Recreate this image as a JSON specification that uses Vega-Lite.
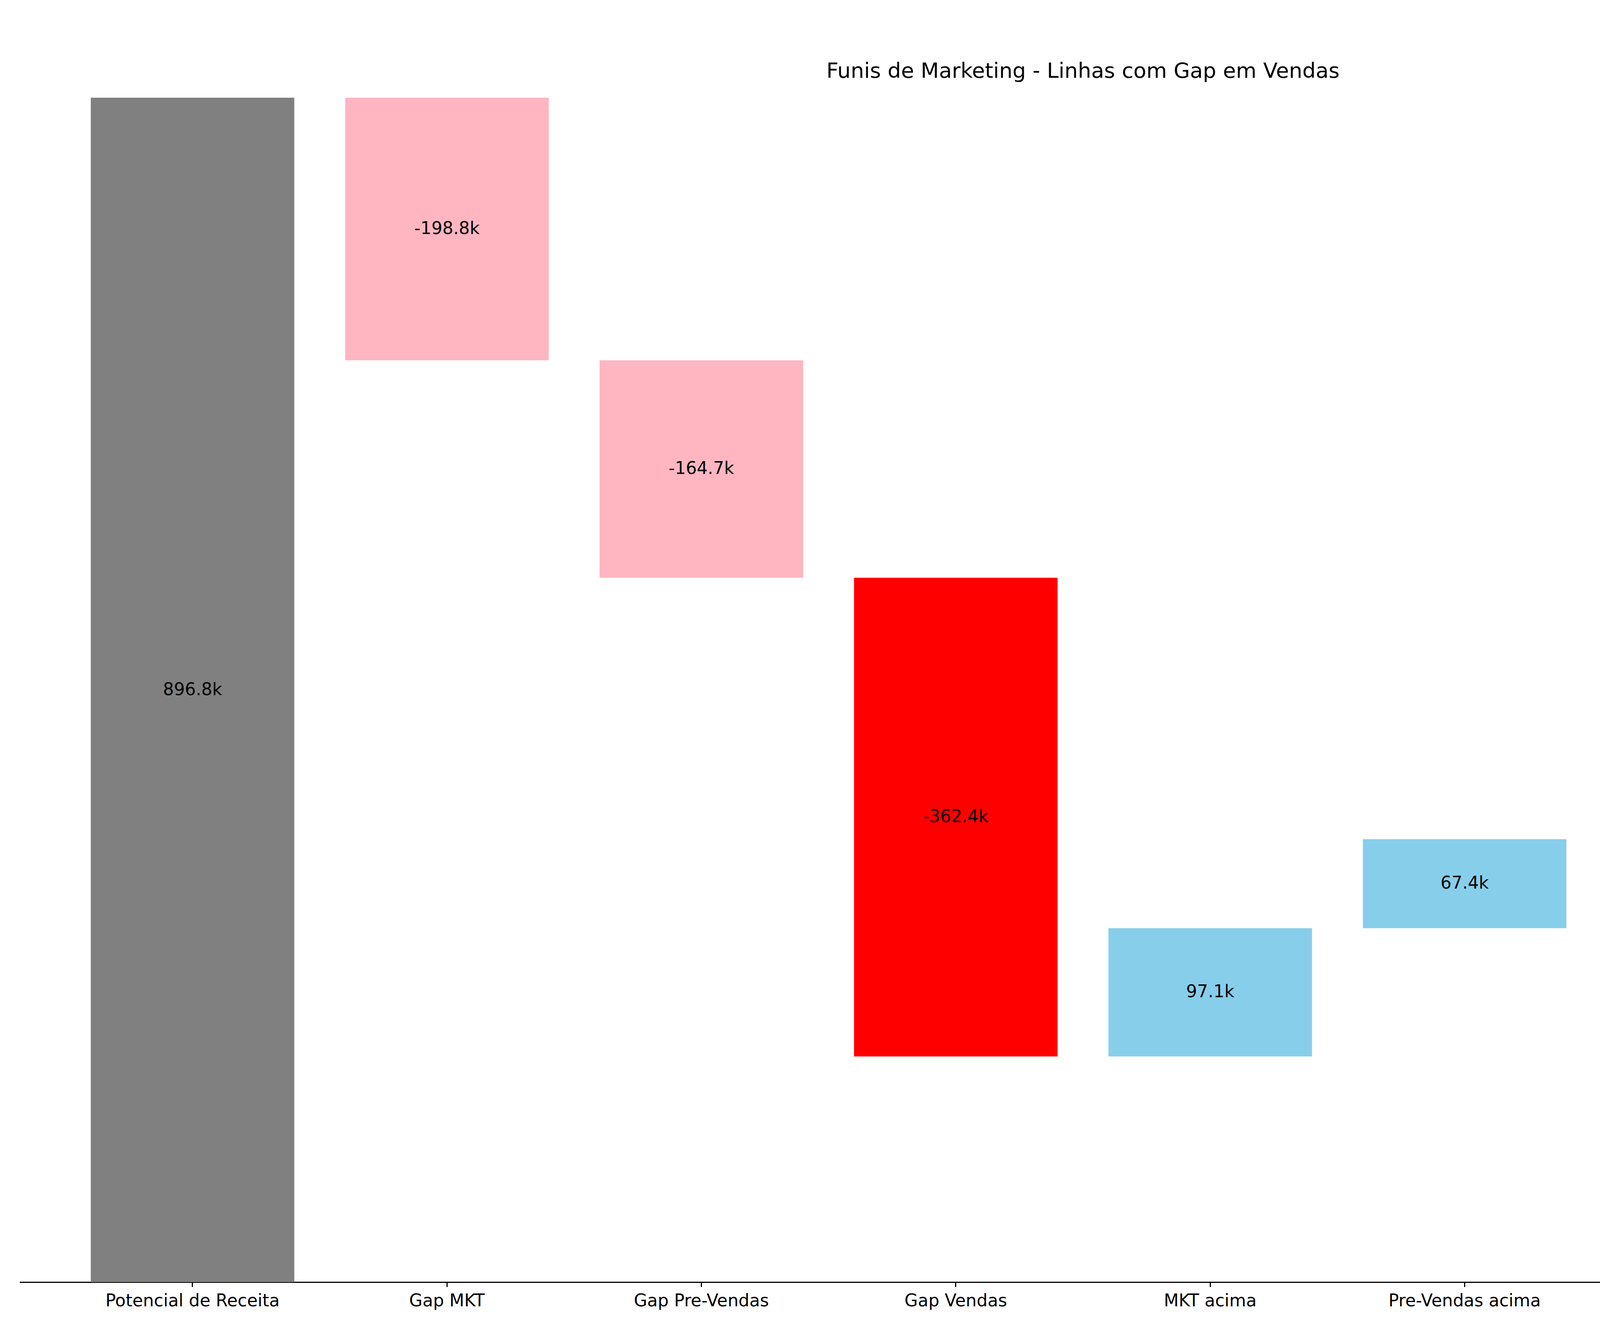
{
  "$schema": "https://vega.github.io/schema/vega-lite/v6.json",
  "autosize": {"type": "fit", "contains": "padding"},
  "width": 5525,
  "height": 3401,
  "padding": {"left": 50, "top": 156, "right": 30, "bottom": 50},
  "background": "white",
  "config": {"view": {"stroke": null}, "font": "DejaVu Sans"},
  "title": {"text": "Funis de Marketing - Linhas com Gap em Vendas", "fontSize": 54, "fontWeight": "normal", "font": "DejaVu Sans", "offset": 40, "color": "black"},
  "data": {"values": [
    {"etapa": "Potencial de Receita", "start": 0, "end": 896.8, "label": "896.8k", "cor": "total"},
    {"etapa": "Gap MKT", "start": 896.8, "end": 698.0, "label": "-198.8k", "cor": "gap"},
    {"etapa": "Gap Pre-Vendas", "start": 698.0, "end": 533.3, "label": "-164.7k", "cor": "gap"},
    {"etapa": "Gap Vendas", "start": 533.3, "end": 170.9, "label": "-362.4k", "cor": "gapvendas"},
    {"etapa": "MKT acima", "start": 170.9, "end": 268.0, "label": "97.1k", "cor": "acima"},
    {"etapa": "Pre-Vendas acima", "start": 268.0, "end": 335.4, "label": "67.4k", "cor": "acima"},
    {"etapa": "Vendas acima", "start": 335.4, "end": 335.4, "label": "0.0", "cor": "acima"},
    {"etapa": "Receita Realizada", "start": 0, "end": 335.5, "label": "335.5k", "cor": "total"}
  ]},
  "transform": [{"calculate": "(datum.start + datum.end) / 2", "as": "mid"}],
  "encoding": {
    "x": {"field": "etapa", "type": "nominal", "sort": null, "title": null,
      "scale": {"paddingInner": 0.2, "paddingOuter": 0.28},
      "axis": {"labelAngle": 0, "labelFontSize": 44, "labelLimit": 0, "labelColor": "black", "labelPadding": 14, "domainColor": "black", "domainWidth": 3, "tickColor": "black", "tickWidth": 3, "tickSize": 12}}
  },
  "layer": [
    {"mark": {"type": "bar"},
      "encoding": {
        "y": {"field": "start", "type": "quantitative", "scale": {"domain": [0, 896.8], "nice": false}, "axis": null},
        "y2": {"field": "end"},
        "color": {"field": "cor", "type": "nominal", "legend": null,
          "scale": {"domain": ["total", "gap", "gapvendas", "acima"], "range": ["#808080", "#FFB6C1", "#FF0000", "#87CEEB"]}}
      }},
    {"mark": {"type": "text", "fontSize": 44, "color": "black", "baseline": "middle"},
      "encoding": {"y": {"field": "mid", "type": "quantitative"}, "text": {"field": "label"}}}
  ]
}
